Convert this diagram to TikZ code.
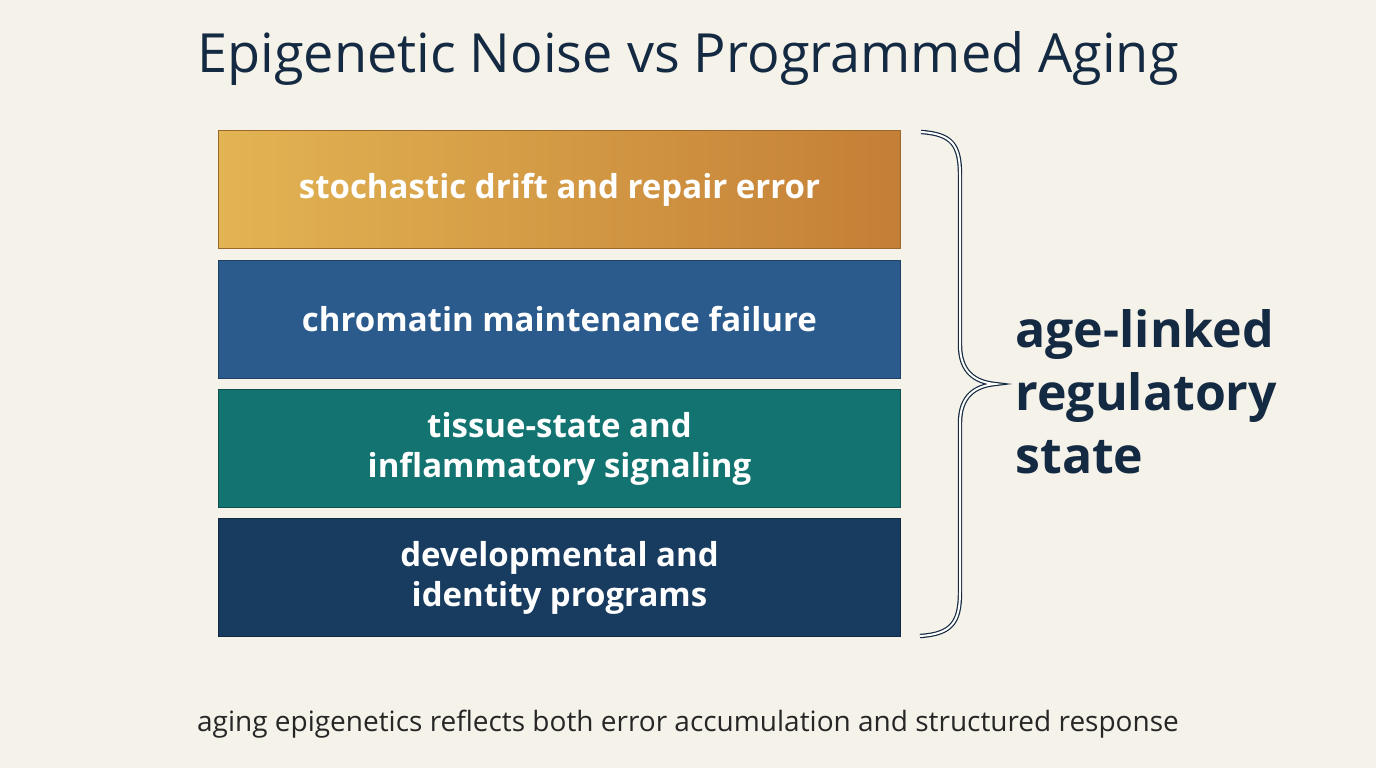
\documentclass[tikz,border=0pt]{standalone}
\usepackage{fontspec}
\setmainfont{Open Sans}
\usetikzlibrary{positioning}
\definecolor{bg}{HTML}{F5F2E9}
\definecolor{ink}{HTML}{142A42}
\definecolor{goldL}{HTML}{E2B453}
\definecolor{goldR}{HTML}{C47F36}
\definecolor{blueB}{HTML}{2B5B8D}
\definecolor{tealB}{HTML}{127370}
\definecolor{navyB}{HTML}{183B60}
\tikzset{
  layer/.style={draw=#1!70!black, line width=1pt, fill=#1, minimum width=682pt, minimum height=118pt, anchor=north west, inner sep=0pt, text=white, font=\fontsize{33}{40}\selectfont\bfseries, align=center},
}
\begin{document}
\begin{tikzpicture}[x=1pt,y=-1pt]
\fill[bg] (0,0) rectangle (1376,768);
\useasboundingbox (0,0) rectangle (1376,768);
\node[text=ink, font=\fontsize{54}{60}\selectfont] (title) at (688,58) {Epigenetic Noise vs Programmed Aging};
\node[layer=goldR, left color=goldL, right color=goldR, draw=goldR!80!black] (l1) at (218,130) {stochastic drift and repair error};
\node[layer=blueB] (l2) at (218,260) {chromatin maintenance failure};
\node[layer=tealB] (l3) at (218,389) {tissue-state and\\inflammatory signaling};
\node[layer=navyB] (l4) at (218,518) {developmental and\\identity programs};
\draw[ink, line width=1.2pt, double=white, double distance=2pt]
  (l1.north east) ++(20,2) coordinate (b1)
  .. controls (952,134) and (960,145) .. (960,175)
  -- (960,345) .. controls (960,372) and (975,382) .. (995,384)
  .. controls (975,386) and (960,396) .. (960,423)
  -- (960,592) .. controls (960,622) and (952,634) .. (920,636) coordinate (b2);
\node[text=ink, font=\fontsize{50}{63}\selectfont\bfseries, align=left, anchor=west] (lab) at (1012,392) {age-linked\\regulatory\\state};
\node[text=black!85, font=\fontsize{28}{34}\selectfont] (foot) at (688,724) {aging epigenetics reflects both error accumulation and structured response};
\end{tikzpicture}
\end{document}
